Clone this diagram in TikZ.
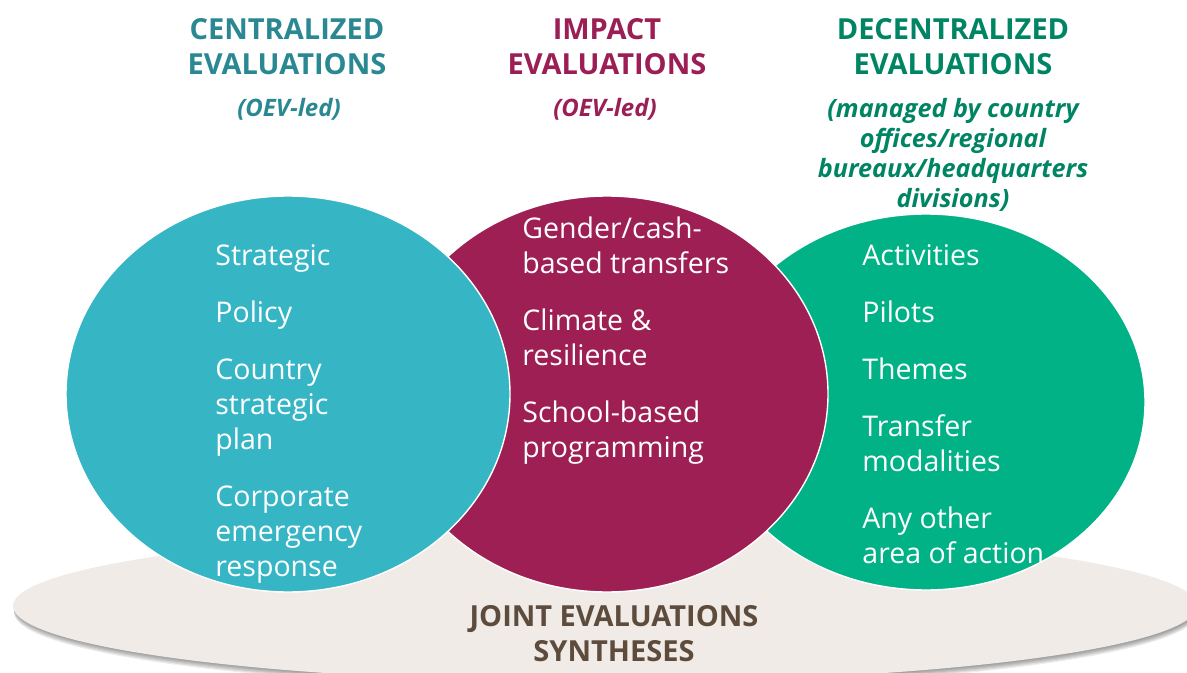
\documentclass[tikz,border=0pt]{standalone}
\usepackage{fontspec}
\setmainfont{Open Sans}
\definecolor{cenfill}{RGB}{54,181,197}
\definecolor{impfill}{RGB}{158,31,83}
\definecolor{decfill}{RGB}{0,178,134}
\definecolor{basefill}{RGB}{240,235,231}
\definecolor{centext}{RGB}{42,136,147}
\definecolor{imptext}{RGB}{155,31,85}
\definecolor{dectext}{RGB}{0,133,100}
\definecolor{basetext}{RGB}{93,75,60}
% fixed height for the first line of every text block
\newcommand\lnstrut{\rule{0pt}{12pt}}
\begin{document}
\begin{tikzpicture}[x=0.5pt,y=-0.5pt,
  item/.style={anchor=north west, inner sep=0pt, align=left, text=white,
    font=\fontsize{14.25}{17.5}\selectfont},
  head/.style={anchor=north, inner sep=0pt, align=center,
    font=\bfseries\fontsize{14.5}{17.5}\selectfont},
  sub/.style={anchor=north, inner sep=0pt, align=center,
    font=\bfseries\itshape\fontsize{12}{15}\selectfont},
  disc/.style={draw=white, line width=0.7pt}]
\useasboundingbox (0,0) rectangle (1187,673);
\clip (0,0) rectangle (1187,673);
\fill[white] (0,0) rectangle (1187,673);

% base platform with a soft shadow
\foreach \d in {1,...,6}
  \fill[black, opacity=0.07] (606,{606+1.1*\d}) ellipse [x radius=592, y radius=76];
\fill[basefill] (605,606) ellipse [x radius=592, y radius=76];

% the three evaluation discs
\filldraw[disc, fill=decfill] (926,402) ellipse [x radius=219, y radius=188];
\filldraw[disc, fill=impfill] (607,394) ellipse [x radius=221, y radius=198];
\filldraw[disc, fill=cenfill] (288,394) ellipse [x radius=222, y radius=198];

% headings
\node[head, text=centext] (cenhead) at (287,15) {\lnstrut CENTRALIZED\\EVALUATIONS};
\node[sub, text=centext] (censub) at (289,92) {\lnstrut(OEV-led)};
\node[head, text=imptext] (imphead) at (607,15) {\lnstrut IMPACT\\EVALUATIONS};
\node[sub, text=imptext] (impsub) at (605,92) {\lnstrut(OEV-led)};
\node[head, text=dectext] (dechead) at (953,15) {\lnstrut DECENTRALIZED\\EVALUATIONS};
\node[sub, text=dectext, font=\bfseries\itshape\fontsize{12.6}{15}\selectfont] (decsub) at (953,93)
  {\lnstrut(managed by country\\offices/regional\\bureaux/headquarters\\divisions)};

% contents of each disc
\node[item] (cenitems) at (215,241)
  {\lnstrut Strategic\\[11pt]Policy\\[11pt]Country\\strategic\\plan\\[11pt]Corporate\\emergency\\response};
\node[item] (impitems) at (522,214)
  {\lnstrut Gender/cash-\\based transfers\\[11pt]Climate \&\\resilience\\[11pt]School-based\\programming};
\node[item] (decitems) at (862,241)
  {\lnstrut Activities\\[11pt]Pilots\\[11pt]Themes\\[11pt]Transfer\\modalities\\[11pt]Any other\\area of action};

% label on the base
\node[head, text=basetext] (basetitle) at (614,602) {\lnstrut JOINT EVALUATIONS\\SYNTHESES};
\end{tikzpicture}
\end{document}
